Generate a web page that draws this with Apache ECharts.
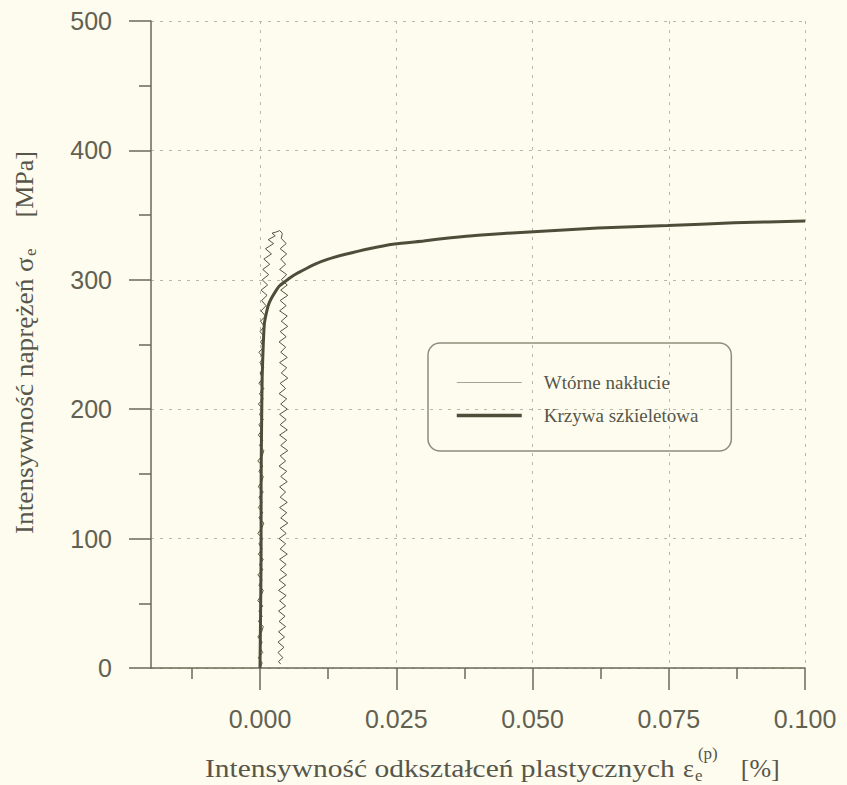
<!DOCTYPE html>
<html>
<head>
<meta charset="utf-8">
<script src="https://cdn.jsdelivr.net/npm/echarts@6/dist/echarts.min.js"></script>
<style>
  html, body { margin: 0; padding: 0; background: #fdfcee; }
  #chart { width: 847px; height: 785px; }
</style>
</head>
<body>
<div id="chart"></div>
<script>
// Axis ticks (strain in %, stress in MPa)
const strainTicks = [0, 0.025, 0.05, 0.075, 0.1];
const strainMinorTicks = [-0.0125, 0.0125, 0.0375, 0.0625, 0.0875];

// Skeleton curve: plastic strain intensity [%] vs stress intensity [MPa]
const skeletonStrain = [0, 0.0001, 0.0002, 0.0002, 0.0003, 0.0004, 0.0006, 0.0008, 0.0011, 0.0015, 0.002, 0.003, 0.0035, 0.0047, 0.006, 0.0075, 0.01, 0.0125, 0.0155, 0.02, 0.0247, 0.03, 0.035, 0.04, 0.0494, 0.062, 0.0748, 0.087, 0.1];
const skeletonStress = [0, 40, 90, 140, 190, 225, 250, 266, 273, 280, 285, 292, 295, 299, 303, 306.5, 312, 316, 319.5, 324, 327.6, 330, 332.5, 334.5, 337, 340, 342, 344, 345.5];

// Secondary indentation loop, loading branch [strain, stress]
const reloadUp = [
  [0.0000, 0], [0.0004, 4], [-0.0003, 8], [0.0005, 12], [-0.0001, 16], [0.0004, 20], [-0.0004, 24], [0.0003, 28],
  [0.0006, 32], [-0.0003, 36], [0.0004, 40], [-0.0002, 44], [0.0005, 48], [-0.0004, 52], [0.0002, 56], [0.0006, 60],
  [-0.0002, 64], [0.0004, 68], [-0.0004, 72], [0.0005, 76], [-0.0001, 80], [0.0006, 84], [-0.0003, 88], [0.0004, 92],
  [-0.0002, 96], [0.0005, 100], [-0.0004, 104], [0.0003, 108], [0.0007, 112], [-0.0002, 116], [0.0005, 120], [-0.0003, 124],
  [0.0004, 128], [-0.0002, 132], [0.0006, 136], [-0.0003, 140], [0.0003, 144], [0.0006, 148], [-0.0002, 152], [0.0005, 156],
  [-0.0004, 160], [0.0004, 164], [0.0007, 168], [-0.0001, 172], [0.0005, 176], [-0.0003, 180], [0.0004, 184], [-0.0002, 188],
  [0.0006, 192], [-0.0001, 196], [0.0005, 200], [-0.0003, 204], [0.0006, 208], [-0.0001, 212], [0.0007, 216], [-0.0002, 220],
  [0.0005, 224], [0.0000, 228], [0.0007, 232], [0.0000, 236], [0.0006, 240], [-0.0002, 244], [0.0007, 248], [0.0001, 252],
  [0.0008, 256], [0.0000, 260], [0.0008, 264], [0.0001, 268], [0.0010, 272], [0.0002, 276], [0.0011, 280], [0.0003, 284],
  [0.0013, 288], [0.0002, 292], [0.0014, 296], [0.0004, 300], [0.0016, 304], [0.0005, 308], [0.0018, 312], [0.0007, 316],
  [0.0021, 320], [0.0010, 324], [0.0025, 328], [0.0015, 331], [0.0028, 334], [0.0022, 336]
];
// Loop apex
const reloadTop = [[0.0030, 337], [0.0036, 338], [0.0041, 336]];
// Unloading branch [strain, stress]
const reloadDown = [
  [0.0039, 332], [0.0048, 328], [0.0037, 324], [0.0049, 320], [0.0038, 316], [0.0047, 312], [0.0036, 308], [0.0049, 304],
  [0.0039, 300], [0.0050, 296], [0.0038, 292], [0.0051, 288], [0.0037, 284], [0.0048, 280], [0.0036, 276], [0.0050, 272],
  [0.0039, 268], [0.0051, 264], [0.0037, 260], [0.0048, 256], [0.0035, 252], [0.0047, 248], [0.0038, 244], [0.0050, 240],
  [0.0036, 236], [0.0049, 232], [0.0039, 228], [0.0051, 224], [0.0037, 220], [0.0047, 216], [0.0035, 212], [0.0049, 208],
  [0.0038, 204], [0.0050, 200], [0.0036, 196], [0.0048, 192], [0.0037, 188], [0.0050, 184], [0.0036, 180], [0.0049, 176],
  [0.0038, 172], [0.0051, 168], [0.0037, 164], [0.0047, 160], [0.0035, 156], [0.0049, 152], [0.0038, 148], [0.0050, 144],
  [0.0036, 140], [0.0047, 136], [0.0037, 132], [0.0050, 128], [0.0036, 124], [0.0049, 120], [0.0038, 116], [0.0051, 112],
  [0.0037, 108], [0.0048, 104], [0.0035, 100], [0.0047, 96], [0.0037, 92], [0.0050, 88], [0.0036, 84], [0.0048, 80],
  [0.0037, 76], [0.0049, 72], [0.0035, 68], [0.0047, 64], [0.0034, 60], [0.0048, 56], [0.0036, 52], [0.0047, 48],
  [0.0034, 44], [0.0046, 40], [0.0035, 36], [0.0047, 32], [0.0034, 28], [0.0045, 24], [0.0033, 20], [0.0044, 16],
  [0.0033, 12], [0.0042, 8], [0.0034, 5], [0.0038, 3]
];

const seriesNames = ['Wtórne nakłucie', 'Krzywa szkieletowa'];
const xTitle = { main: 'Intensywność odkształceń plastycznych', sym: 'ε', sub: 'e', sup: '(p)', unit: '[%]' };
const yTitle = { main: 'Intensywność naprężeń σ', sub: 'e', unit: '[MPa]' };

const paper = '#fdfcee';
const ink = '#57564a';
const axisInk = '#6b6958';
const gridInk = '#b9b8a6';
const labelInk = '#626151';

const skeleton = skeletonStrain.map((s, i) => [s, skeletonStress[i]]);
const reloadPath = reloadUp.concat(reloadTop, reloadDown);

// text measuring for the composed axis titles
const measureCtx = document.createElement('canvas').getContext('2d');
function textWidth(str, font) { measureCtx.font = font; return measureCtx.measureText(str).width; }

const titleSize = 26, scriptSize = 17;
const titleFont = titleSize + 'px "Liberation Serif"';
const scriptFont = scriptSize + 'px "Liberation Serif"';
const serifFamily = '"Liberation Serif", "Times New Roman", serif';

function txt(x, y, text, size, extra) {
  return Object.assign({
    type: 'text', x: x, y: y, silent: true,
    style: { text: text, fontFamily: serifFamily, fontSize: size, fill: ink, align: 'left', verticalAlign: 'middle' }
  }, extra || {});
}

// x-axis title: widened main text, ε with stacked sub/superscript, unit
const xt0 = 205, xtY = 768, xMainSpan = 470;
const wMain = textWidth(xTitle.main, titleFont);
const mainScale = xMainSpan / wMain;
const epsX = xt0 + xMainSpan + 8;
const wEps = textWidth(xTitle.sym, titleFont);
const scriptX = epsX + wEps + 1;
const wSup = textWidth(xTitle.sup, scriptFont);
const unitX = scriptX + wSup + 26;
const xTitleGroup = {
  type: 'group',
  children: [
    txt(xt0, xtY, xTitle.main, titleSize, { scaleX: mainScale }),
    txt(epsX, xtY, xTitle.sym, titleSize),
    txt(scriptX, xtY + 7, xTitle.sub, scriptSize),
    txt(scriptX + 3, xtY - 15, xTitle.sup, scriptSize),
    txt(unitX, xtY, xTitle.unit, titleSize)
  ]
};

// y-axis title, rotated to read bottom-up
const ytStart = 534, ytEnd = 151, yMainScale = 1.05;
const wyMain = textWidth(yTitle.main, titleFont) * yMainScale;
const wyUnit = textWidth(yTitle.unit, titleFont);
const yTitleGroup = {
  type: 'group', x: 24, y: ytStart, rotation: Math.PI / 2,
  children: [
    txt(0, 0, yTitle.main, titleSize, { scaleX: yMainScale }),
    txt(wyMain + 1, 6, yTitle.sub, scriptSize),
    txt(ytStart - ytEnd - wyUnit, 0, yTitle.unit, titleSize)
  ]
};

const chart = echarts.init(document.getElementById('chart'), null, { renderer: 'svg' });

const tickLabelStyle = { fontFamily: '"Liberation Sans", Arial, sans-serif', fontSize: 25, color: labelInk };
const hiddenMarker = { color: 'rgba(0,0,0,0)', borderWidth: 0, opacity: 0 };

chart.setOption({
  backgroundColor: paper,
  animation: false,
  grid: { left: 151, right: 42, top: 21, bottom: 117 },
  xAxis: [
    {
      type: 'value', min: -0.02, max: 0.1,
      axisLine: { show: true, onZero: false, lineStyle: { color: axisInk, width: 1.5 } },
      axisTick: { show: true, length: 22, customValues: strainTicks, lineStyle: { color: axisInk, width: 1.5 } },
      axisLabel: Object.assign({ customValues: strainTicks, margin: 38, formatter: v => v.toFixed(3) }, tickLabelStyle),
      splitLine: { show: true, lineStyle: { color: gridInk, width: 1, type: [3, 6] } }
    },
    {
      type: 'value', min: -0.02, max: 0.1, position: 'bottom',
      axisLine: { show: false },
      axisLabel: { show: false },
      splitLine: { show: false },
      axisTick: { show: true, length: 11, customValues: strainMinorTicks, lineStyle: { color: axisInk, width: 1.5 } }
    }
  ],
  yAxis: {
    type: 'value', min: 0, max: 500, interval: 100,
    axisLine: { show: true, onZero: false, lineStyle: { color: axisInk, width: 1.5 } },
    axisTick: { show: true, length: 22, lineStyle: { color: axisInk, width: 1.5 } },
    minorTick: { show: true, splitNumber: 2, length: 12, lineStyle: { color: axisInk, width: 1.5 } },
    axisLabel: Object.assign({ margin: 39 }, tickLabelStyle),
    splitLine: { show: true, lineStyle: { color: gridInk, width: 1, type: [3, 6] } }
  },
  legend: {
    left: 428, top: 343, orient: 'vertical',
    itemWidth: 65, itemHeight: 14, itemGap: 14,
    padding: [30, 33, 26, 27],
    borderColor: '#8f8d7c', borderWidth: 1.5, borderRadius: 12,
    selectedMode: false,
    itemStyle: hiddenMarker,
    textStyle: { fontFamily: serifFamily, fontSize: 19, color: ink, padding: [0, 0, 0, 17] },
    data: [
      { name: seriesNames[0], itemStyle: hiddenMarker, lineStyle: { color: '#a6a494', width: 1 } },
      { name: seriesNames[1], itemStyle: hiddenMarker, lineStyle: { width: 3.5 } }
    ]
  },
  graphic: [xTitleGroup, yTitleGroup],
  series: [
    {
      name: seriesNames[0], type: 'line', data: reloadPath,
      symbol: 'none', showSymbol: false, z: 3,
      itemStyle: { color: '#55533f' },
      lineStyle: { color: '#55533f', width: 1 }
    },
    {
      name: seriesNames[1], type: 'line', data: skeleton,
      symbol: 'none', showSymbol: false, smooth: 0.2, z: 4,
      itemStyle: { color: '#4f4d3a' },
      lineStyle: { color: '#4f4d3a', width: 3 }
    }
  ]
});
</script>
</body>
</html>
